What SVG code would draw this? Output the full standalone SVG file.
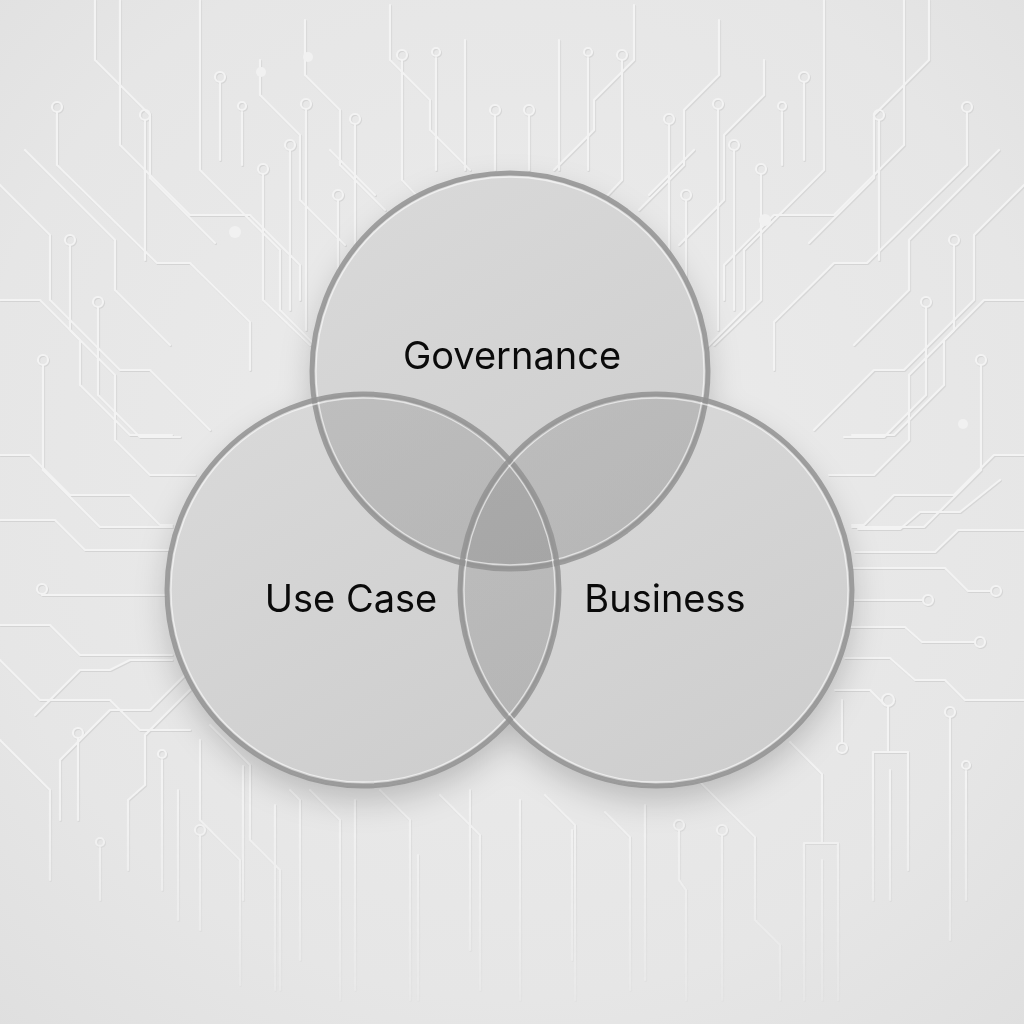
<svg xmlns="http://www.w3.org/2000/svg" xmlns:xlink="http://www.w3.org/1999/xlink" width="1024" height="1024" viewBox="0 0 1024 1024">
  <defs>
    <style>
      .lbl { font-family: "Inter", "Liberation Sans", sans-serif; font-size: 38px; fill: #0a0a0a; text-anchor: middle; }
      .base { fill: #f8f8f8; }
      .tint { fill: url(#tintGrad); }
      .rim { fill: none; stroke: #929292; stroke-width: 5; stroke-opacity: 0.85; }
      .hi { fill: none; stroke: #ffffff; stroke-width: 1.3; stroke-opacity: 0.6; }
    </style>
    <radialGradient id="bgGrad" cx="0.5" cy="0.45" r="0.75">
      <stop offset="0" stop-color="#ececec"/>
      <stop offset="0.7" stop-color="#e6e6e6"/>
      <stop offset="1" stop-color="#dfdfdf"/>
    </radialGradient>
    <linearGradient id="tintGrad" x1="0.2" y1="0" x2="0.8" y2="1">
      <stop offset="0" stop-color="#848484" stop-opacity="0.27"/>
      <stop offset="1" stop-color="#7a7a7a" stop-opacity="0.34"/>
    </linearGradient>
    <linearGradient id="fadeGrad" x1="0" y1="0" x2="0" y2="1">
      <stop offset="0" stop-color="#fff"/>
      <stop offset="0.75" stop-color="#fff"/>
      <stop offset="1" stop-color="#222"/>
    </linearGradient>
    <mask id="fade">
      <rect width="1024" height="1024" fill="url(#fadeGrad)"/>
    </mask>
    <filter id="shadow" x="-20%" y="-20%" width="140%" height="150%">
      <feDropShadow dx="0" dy="14" stdDeviation="16" flood-color="#000" flood-opacity="0.2"/>
    </filter>
    <g id="tl" fill="none">
      <path d="M57,113 V165 L157,263 H190 L250,322 V370"/>
      <path d="M0,185 L50,235 V300 L120,370 H150 L210,430"/>
      <path d="M25,150 L115,240 V290 L170,345"/>
      <path d="M95,0 V60 L150,115 V178 L215,243"/>
      <path d="M120,0 V145 L190,215 H250 L300,265 V300"/>
      <path d="M145,121 V260"/>
      <path d="M200,0 V170 L280,250 V310 L325,355"/>
      <path d="M220,83 V160"/>
      <path d="M242,112 V165"/>
      <path d="M260,60 V95 L300,135 V200 L345,245"/>
      <path d="M263,175 V300 L310,345"/>
      <path d="M306,110 V330"/>
      <path d="M290,151 V310"/>
      <path d="M305,20 V75 L340,110 V165 L385,210"/>
      <path d="M355,125 V300"/>
      <path d="M390,5 V60 L430,100 V130 L470,170"/>
      <path d="M402,61 V180 L440,220"/>
      <path d="M436,58 V170"/>
      <path d="M465,40 V170"/>
      <path d="M495,116 V170"/>
      <path d="M338,201 V290"/>
      <path d="M330,150 L375,195"/>
      <path d="M0,300 H40 L80,340 V385 L130,435 H172"/>
      <path d="M70,246 V330 L115,375 V440 L150,475 H195"/>
      <path d="M98,308 V395 L140,437 H180"/>
      <path d="M43,366 V470 L100,527 H172"/>
      <path d="M0,455 H30 L70,495 H130 L160,525 H172"/>
      <circle cx="57" cy="107" r="5"/>
      <circle cx="145" cy="115" r="5"/>
      <circle cx="220" cy="77" r="5"/>
      <circle cx="242" cy="106" r="4"/>
      <circle cx="306" cy="104" r="5"/>
      <circle cx="263" cy="169" r="5"/>
      <circle cx="355" cy="119" r="5"/>
      <circle cx="402" cy="55" r="5"/>
      <circle cx="436" cy="52" r="4"/>
      <circle cx="495" cy="110" r="5"/>
      <circle cx="290" cy="145" r="5"/>
      <circle cx="338" cy="195" r="5"/>
      <circle cx="70" cy="240" r="5"/>
      <circle cx="98" cy="302" r="5"/>
      <circle cx="43" cy="360" r="5"/>
    </g>
    <g id="bl" fill="none">
      <path d="M0,520 H55 L85,550 H170"/>
      <path d="M42,595 H170"/>
      <path d="M0,625 H50 L80,655 H172"/>
      <path d="M0,660 L40,700 H110 L140,730 H190"/>
      <path d="M78,739 V820"/>
      <path d="M0,740 L50,790 V880"/>
      <path d="M35,715 L80,670 H110 L130,660 H172"/>
      <path d="M60,820 V760 L110,710 H150 L185,675"/>
      <path d="M100,848 V900"/>
      <path d="M128,870 V800 L145,785 V735 L190,690"/>
      <path d="M162,760 V890"/>
      <path d="M178,790 V920"/>
      <path d="M200,836 V930"/>
      <path d="M200,740 V820 L240,860 V985"/>
      <path d="M210,725 L250,765 V840 L280,870 V990"/>
      <path d="M243,766 V900"/>
      <path d="M275,805 V990"/>
      <path d="M290,790 L300,800 V960"/>
      <path d="M310,790 L340,820 V1000"/>
      <path d="M355,800 V990"/>
      <path d="M380,790 L410,820 V1000"/>
      <path d="M418,855 V1000"/>
      <path d="M440,795 L480,835 V990"/>
      <path d="M470,790 V950"/>
      <circle cx="78" cy="733" r="5"/>
      <circle cx="42" cy="589" r="5"/>
      <circle cx="100" cy="842" r="4"/>
      <circle cx="200" cy="830" r="5"/>
      <circle cx="162" cy="754" r="4"/>
    </g>
    <g id="br" fill="none">
      <path d="M520,800 V1000"/>
      <path d="M545,795 L575,825 V1000"/>
      <path d="M572,830 V960"/>
      <path d="M605,812 L630,837 V990"/>
      <path d="M645,805 V980"/>
      <path d="M679,831 V880 L686,890 V1000"/>
      <path d="M722,836 V1000"/>
      <path d="M700,782 L755,837 V920 L780,945 V1000"/>
      <path d="M790,742 L822,774 V843"/>
      <path d="M804,1000 V843 H838 V1000"/>
      <path d="M822,860 V1000"/>
      <path d="M842,700 V742"/>
      <path d="M888,706 V752"/>
      <path d="M873,900 V752 H908 V870"/>
      <path d="M890,770 V900"/>
      <path d="M950,718 V940"/>
      <path d="M966,771 V900"/>
      <path d="M858,529 H900 L920,512 H960 L1000,480"/>
      <path d="M855,552 H935 L958,530 H1024"/>
      <path d="M852,568 H945 L968,591 H990"/>
      <path d="M850,600 H922"/>
      <path d="M850,627 H905 L922,642 H974"/>
      <path d="M845,658 H890 L915,680 H945 L965,700 H1024"/>
      <path d="M835,690 H870 L885,705"/>
      <circle cx="679" cy="825" r="5"/>
      <circle cx="722" cy="830" r="5"/>
      <circle cx="842" cy="748" r="5"/>
      <circle cx="888" cy="700" r="6"/>
      <circle cx="950" cy="712" r="5"/>
      <circle cx="966" cy="765" r="4"/>
      <circle cx="928" cy="600" r="5"/>
      <circle cx="980" cy="642" r="5"/>
      <circle cx="996" cy="591" r="5"/>
    </g>
    <g id="allTraces">
      <use xlink:href="#tl"/>
      <use xlink:href="#tl" transform="translate(1024,0) scale(-1,1)"/>
      <use xlink:href="#bl"/>
      <use xlink:href="#br"/>
    </g>
  </defs>

  <rect width="1024" height="1024" fill="url(#bgGrad)"/>

  <g id="circuit" mask="url(#fade)" stroke-linecap="round" stroke-linejoin="round" stroke-width="2.2">
    <use xlink:href="#allTraces" stroke="#d4d4d4" transform="translate(0.8,1)"/>
    <use xlink:href="#allTraces" stroke="#f3f3f3"/>
    <circle cx="261" cy="72" r="5" fill="#f1f1f1"/>
    <circle cx="235" cy="232" r="6" fill="#f1f1f1"/>
    <circle cx="308" cy="57" r="5" fill="#f1f1f1"/>
    <circle cx="765" cy="220" r="6" fill="#f1f1f1"/>
    <circle cx="963" cy="424" r="5" fill="#f1f1f1"/>
  </g>

  <g id="bases" filter="url(#shadow)">
    <circle class="base" cx="510" cy="371" r="198"/>
    <circle class="base" cx="363" cy="590" r="196"/>
    <circle class="base" cx="656" cy="590" r="196"/>
  </g>

  <g id="node-governance">
    <circle class="tint" cx="510" cy="371" r="198"/>
  </g>
  <g id="node-usecase">
    <circle class="tint" cx="363" cy="590" r="196"/>
  </g>
  <g id="node-business">
    <circle class="tint" cx="656" cy="590" r="196"/>
  </g>

  <g id="rims">
    <circle class="rim" cx="510" cy="371" r="198"/>
    <circle class="hi" cx="510" cy="371" r="194"/>
    <circle class="rim" cx="363" cy="590" r="196"/>
    <circle class="hi" cx="363" cy="590" r="192"/>
    <circle class="rim" cx="656" cy="590" r="196"/>
    <circle class="hi" cx="656" cy="590" r="192"/>
  </g>

  <g id="labels">
    <text class="lbl" x="512" y="369">Governance</text>
    <text class="lbl" x="351" y="612">Use Case</text>
    <text class="lbl" x="665" y="612">Business</text>
  </g>
</svg>
